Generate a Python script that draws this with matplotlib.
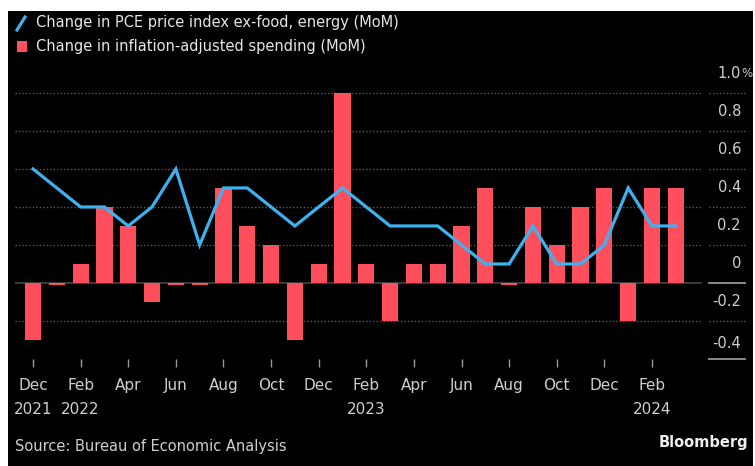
import matplotlib
matplotlib.use("Agg")
import matplotlib.pyplot as plt
from matplotlib.patches import Rectangle
from matplotlib.lines import Line2D

# ---- data ----
months = ["Dec 2021", "Jan 2022", "Feb 2022", "Mar 2022", "Apr 2022", "May 2022",
          "Jun 2022", "Jul 2022", "Aug 2022", "Sep 2022", "Oct 2022", "Nov 2022",
          "Dec 2022", "Jan 2023", "Feb 2023", "Mar 2023", "Apr 2023", "May 2023",
          "Jun 2023", "Jul 2023", "Aug 2023", "Sep 2023", "Oct 2023", "Nov 2023",
          "Dec 2023", "Jan 2024", "Feb 2024", "Mar 2024"]
spending = [-0.3, -0.01, 0.1, 0.4, 0.3, -0.1, -0.01, -0.01, 0.5, 0.3, 0.2, -0.3,
            0.1, 1.0, 0.1, -0.2, 0.1, 0.1, 0.3, 0.5, -0.01, 0.4, 0.2, 0.4,
            0.5, -0.2, 0.5, 0.5]
core_pce = [0.6, 0.5, 0.4, 0.4, 0.3, 0.4, 0.6, 0.2, 0.5, 0.5, 0.4, 0.3,
            0.4, 0.5, 0.4, 0.3, 0.3, 0.3, 0.2, 0.1, 0.1, 0.3, 0.1, 0.1,
            0.2, 0.5, 0.3, 0.3]
xtick_pos = [0, 2, 4, 6, 8, 10, 12, 14, 16, 18, 20, 22, 24, 26]
xtick_labels = ["Dec\n2021", "Feb\n2022", "Apr", "Jun", "Aug", "Oct", "Dec",
                "Feb\n2023", "Apr", "Jun", "Aug", "Oct", "Dec", "Feb\n2024"]
ytick_vals = [-0.4, -0.2, 0, 0.2, 0.4, 0.6, 0.8, 1.0]
ytick_labels = ["-0.4", "-0.2", "0", "0.2", "0.4", "0.6", "0.8", "1.0"]

legend_line = "Change in PCE price index ex-food, energy (MoM)"
legend_bar = "Change in inflation-adjusted spending (MoM)"

RED = "#ff4f5c"
BLUE = "#3db2ee"
GRID = "#5a5a5a"
TXT = "#cfcfcf"

W, H = 755, 466
fig = plt.figure(figsize=(W / 100, H / 100), dpi=100, facecolor="white")

def fx(x):
    return x / W

def fy(y):
    return 1 - y / H

# black panel
fig.patches.append(Rectangle((fx(8), 0), fx(753) - fx(8), fy(11), transform=fig.transFigure,
                             facecolor="black", edgecolor="none", zorder=-5))

ax_left, ax_right, ax_top, ax_bot = 15, 702, 65, 359
ax = fig.add_axes([fx(ax_left), fy(ax_bot), fx(ax_right) - fx(ax_left), fy(ax_top) - fy(ax_bot)])
ax.set_zorder(2)
ax.set_facecolor("black")
for s in ax.spines.values():
    s.set_visible(False)

x = list(range(len(months)))
ax.bar(x, spending, width=0.68, color=RED, zorder=2)
ax.plot(x, core_pce, color=BLUE, lw=2.3, zorder=3, solid_joinstyle="miter")

ax.set_xlim(-0.756, 28.1)
ax.set_ylim(-0.4, 1.147)

# gridlines
for v in ytick_vals:
    if v == 0:
        ax.axhline(0, color="#444444", lw=1.2, zorder=1.5)
    elif v > -0.4:
        ax.axhline(v, color=GRID, lw=1.0, ls=(0, (1, 1.5)), zorder=1)

# right label-area gridlines
tr = ax.get_yaxis_transform()
x0 = (709 - ax_left) / (ax_right - ax_left)
x1 = (745 - ax_left) / (ax_right - ax_left)
xl = (741 - ax_left) / (ax_right - ax_left)
for v, lab in zip(ytick_vals, ytick_labels):
    if v in (0, -0.4):
        ax.add_line(Line2D([x0, x1], [v, v], transform=tr, color="#8a8a8a", lw=1.4, clip_on=False))
    else:
        ax.add_line(Line2D([x0, x1], [v, v], transform=tr, color=GRID, lw=1.0,
                           ls=(0, (1, 1.5)), clip_on=False))
    yv = v + (0.084 if v == -0.4 else 0.1)
    ax.text(xl, yv, lab, transform=tr, ha="right", va="center", color=TXT, fontsize=10.5)
    if v == 1.0:
        ax.text(xl, yv, "%", transform=tr, ha="left", va="center", color=TXT, fontsize=8.5)

ax.set_yticks([])
ax.set_xticks(xtick_pos)
ax.set_xticklabels(xtick_labels, color=TXT, fontsize=11, linespacing=1.75)
ax.tick_params(axis="x", direction="out", length=6, width=1, color="#9a9a9a", pad=8)
for lbl in ax.get_xticklabels():
    lbl.set_verticalalignment("top")

# legend (custom)
fig.add_artist(Line2D([fx(17), fx(25)], [fy(30), fy(17)], transform=fig.transFigure,
                      color=BLUE, lw=2.3))
fig.patches.append(Rectangle((fx(17), fy(52)), fx(27) - fx(17), fy(41) - fy(52),
                             transform=fig.transFigure, facecolor=RED, edgecolor="none"))
fig.text(fx(36), fy(23), legend_line, color="#e6e6e6", fontsize=10.5, ha="left", va="center")
fig.text(fx(36), fy(47), legend_bar, color="#e6e6e6", fontsize=10.5, ha="left", va="center")

fig.text(fx(15), fy(447), "Source: Bureau of Economic Analysis", color=TXT, fontsize=10.5,
         ha="left", va="center")
fig.text(fx(748), fy(443), "Bloomberg", color="#eeeeee", fontsize=10.5, fontweight="bold",
         ha="right", va="center")

fig.savefig("out.png", dpi=100, facecolor=fig.get_facecolor())
